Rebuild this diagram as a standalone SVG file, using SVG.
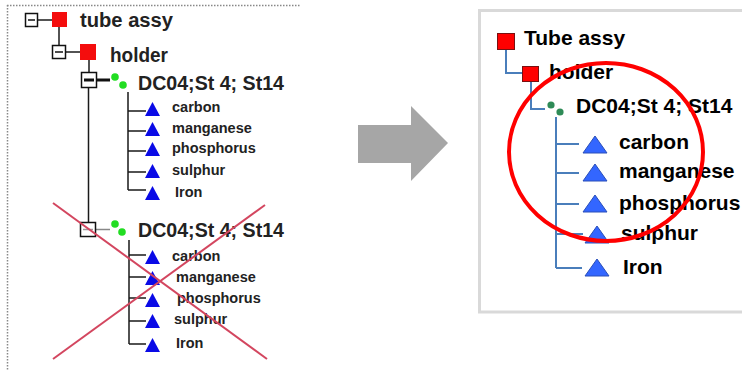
<svg xmlns="http://www.w3.org/2000/svg" width="742" height="370" viewBox="0 0 742 370">
<style>
.lt{font-family:"Liberation Sans",Arial,sans-serif;font-weight:bold;fill:#222}
.big{font-size:19.5px}
.sm{font-size:14.5px}
.rt{font-family:"Liberation Sans",Arial,sans-serif;font-weight:bold;font-size:21px;fill:#000}
.box{fill:#fff;stroke:#111;stroke-width:1.5}
.lc{stroke:#1a1a1a;stroke-width:1.5;fill:none}
.rc{stroke:#4a7ebb;stroke-width:2;fill:none}
.ltri{fill:#0a0ae6}
.rtri{fill:#3366ff;stroke:#2a4fb8;stroke-width:1}
.lsq{fill:#f40d0d}
.rsq{fill:#ff0000;stroke:#7a1010;stroke-width:1}
.gl{fill:#22dd22}
.gr{fill:#2e8b57}
.x{stroke:#d3465f;stroke-width:2}
</style>
<g id="left-panel">
<line x1="7.5" y1="5" x2="7.5" y2="370" stroke="#888" stroke-width="1.5" stroke-dasharray="1.5 1.5"/>
<line x1="7" y1="5.5" x2="300" y2="5.5" stroke="#888" stroke-width="1.5" stroke-dasharray="1.5 1.5"/>
</g>
<g id="right-panel">
<rect x="479.5" y="10.5" width="300" height="301.5" fill="#fff" stroke="#d9d9d9" stroke-width="3"/>
</g>
<g id="connectors">
<line class="lc" x1="38" y1="20" x2="52" y2="20"/>
<line class="lc" x1="59" y1="27" x2="59" y2="45"/>
<line class="lc" x1="66" y1="52" x2="80" y2="52"/>
<line class="lc" x1="89" y1="60" x2="89" y2="72"/>
<line stroke="#111" stroke-width="3" x1="97" y1="80" x2="110" y2="80"/>
<line class="lc" x1="88.5" y1="88" x2="88.5" y2="222"/>
<line stroke="#888" stroke-width="1.5" x1="96" y1="229.5" x2="110" y2="229.5"/>
<path class="lc" d="M128,92 V190 M128,111 H146 M128,131 H146 M128,151 H146 M128,172 H146 M128,190 H146"/>
<path class="lc" d="M129,240 V344 M129,255 H146 M129,277 H146 M129,298 H146 M129,321 H146 M129,344 H146"/>
<path class="rc" d="M506,50 V73 H522"/>
<path class="rc" d="M531,82 V109 H545"/>
<path class="rc" d="M556,117 V268 M556,144 H579 M556,173 H579 M556,204 H579 M556,234 H583 M556,268 H582"/>
</g>
<g id="arrow">
<polygon points="358,125 411,125 411,106 448,143 411,181 411,163 358,163" fill="#a6a6a6"/>
</g>
<g id="l-tube">
<rect class="box" x="25.5" y="13.5" width="12" height="13"/>
<line x1="28" y1="20" x2="35" y2="20" stroke="#111" stroke-width="1.5"/>
<rect class="lsq" x="52" y="12" width="15" height="15"/>
<text class="lt big" x="80" y="27" textLength="93" lengthAdjust="spacingAndGlyphs">tube assy</text>
</g>
<g id="l-holder">
<rect class="box" x="52.5" y="45.5" width="13" height="13"/>
<line x1="55" y1="52" x2="63" y2="52" stroke="#111" stroke-width="1.5"/>
<rect class="lsq" x="80" y="44" width="16" height="16"/>
<text class="lt big" x="110" y="62" textLength="58" lengthAdjust="spacingAndGlyphs">holder</text>
</g>
<g id="l-dc04-a">
<rect class="box" x="81.5" y="72.5" width="15" height="15"/>
<line x1="84" y1="80" x2="94" y2="80" stroke="#111" stroke-width="3"/>
<circle class="gl" cx="115" cy="77" r="3.8"/>
<circle class="gl" cx="123" cy="85" r="3.8"/>
<text class="lt big" x="138" y="90" textLength="146" lengthAdjust="spacingAndGlyphs">DC04;St 4; St14</text>
</g>
<g id="l-a-carbon"><polygon class="ltri" points="152.5,102 145,116 160,116"/><text class="lt sm" x="172" y="112">carbon</text></g>
<g id="l-a-manganese"><polygon class="ltri" points="152.5,122 145,136 160,136"/><text class="lt sm" x="172" y="133">manganese</text></g>
<g id="l-a-phosphorus"><polygon class="ltri" points="152.5,142 145,156 160,156"/><text class="lt sm" x="172" y="153">phosphorus</text></g>
<g id="l-a-sulphur"><polygon class="ltri" points="152.5,164 145,178 160,178"/><text class="lt sm" x="172" y="175">sulphur</text></g>
<g id="l-a-iron"><polygon class="ltri" points="152.5,186 145,200 160,200"/><text class="lt sm" x="175" y="197">Iron</text></g>
<g id="l-dc04-b">
<rect class="box" x="80.5" y="222.5" width="15" height="14"/>
<line x1="83" y1="229.5" x2="93" y2="229.5" stroke="#999" stroke-width="1.5"/>
<circle class="gl" cx="115" cy="224" r="3.8"/>
<circle class="gl" cx="122" cy="232" r="3.8"/>
<text class="lt big" x="138" y="237" textLength="146" lengthAdjust="spacingAndGlyphs">DC04;St 4; St14</text>
</g>
<g id="l-b-carbon"><polygon class="ltri" points="152.5,250 145,264 160,264"/><text class="lt sm" x="172" y="261">carbon</text></g>
<g id="l-b-manganese"><polygon class="ltri" points="152.5,271 145,285 160,285"/><text class="lt sm" x="176" y="282">manganese</text></g>
<g id="l-b-phosphorus"><polygon class="ltri" points="152.5,293 145,307 160,307"/><text class="lt sm" x="177" y="303">phosphorus</text></g>
<g id="l-b-sulphur"><polygon class="ltri" points="152.5,314 145,328 160,328"/><text class="lt sm" x="174" y="324">sulphur</text></g>
<g id="l-b-iron"><polygon class="ltri" points="152.5,338 145,352 160,352"/><text class="lt sm" x="176" y="348">Iron</text></g>
<g id="cross">
<line class="x" x1="53" y1="203" x2="267" y2="359"/>
<line class="x" x1="265" y1="205" x2="53" y2="359"/>
</g>
<g id="r-tube"><rect class="rsq" x="497.5" y="33.5" width="17" height="16"/><text class="rt" x="524" y="45">Tube assy</text></g>
<g id="r-holder"><rect class="rsq" x="522.5" y="66.5" width="16" height="15"/><text class="rt" x="549" y="79">holder</text></g>
<g id="r-dc04"><circle class="gr" cx="551" cy="105" r="3.6"/><circle class="gr" cx="560" cy="112" r="3.6"/><text class="rt" x="576" y="113">DC04;St 4; St14</text></g>
<g id="r-carbon"><polygon class="rtri" points="595,136 583,153 607,153"/><text class="rt" x="619" y="149">carbon</text></g>
<g id="r-manganese"><polygon class="rtri" points="595,164 583,181 607,181"/><text class="rt" x="619" y="178">manganese</text></g>
<g id="r-phosphorus"><polygon class="rtri" points="595,195 583,212 607,212"/><text class="rt" x="619" y="210">phosphorus</text></g>
<g id="r-sulphur"><polygon class="rtri" points="597,226 585,243 609,243"/><text class="rt" x="621" y="240">sulphur</text></g>
<g id="r-iron"><polygon class="rtri" points="597,259 585,276 609,276"/><text class="rt" x="623" y="274">Iron</text></g>
<g id="circle">
<ellipse cx="606" cy="152" rx="97" ry="89" fill="none" stroke="#ff0000" stroke-width="4"/>
</g>
</svg>
